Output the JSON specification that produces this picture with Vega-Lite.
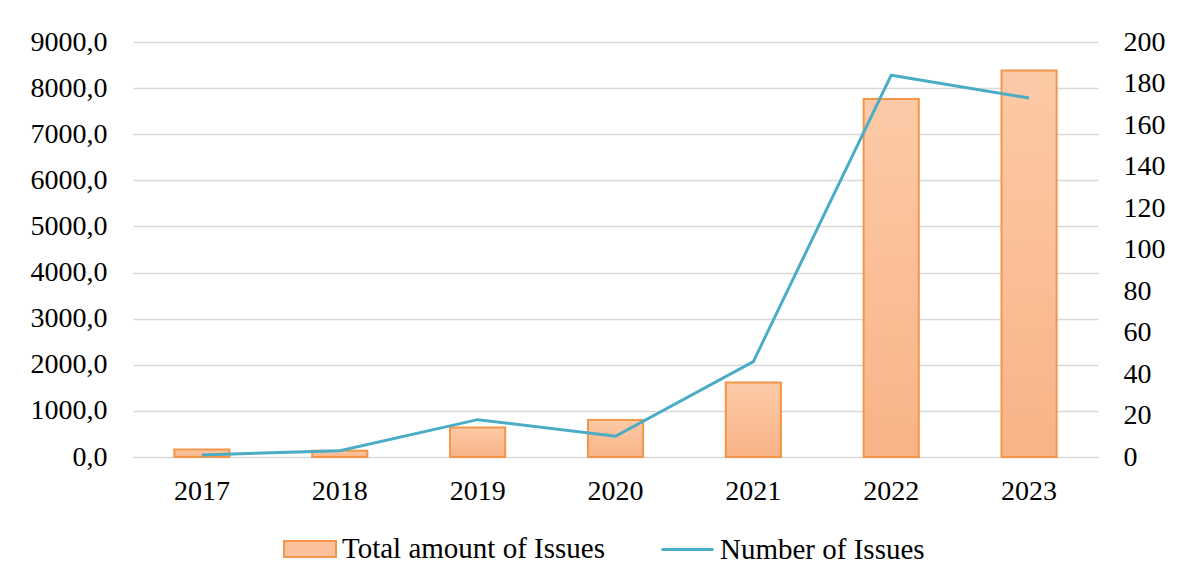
{
  "$schema": "https://vega.github.io/schema/vega-lite/v6.json",
  "autosize": {"type": "none"},
  "width": 965,
  "height": 415,
  "padding": {"left": 133, "top": 42, "right": 81, "bottom": 123},
  "background": "white",
  "config": {
    "view": {"stroke": null},
    "font": "Liberation Serif",
    "axis": {"labelFont": "Liberation Serif", "labelFontSize": 28, "labelColor": "#000000", "ticks": false, "domain": false, "title": null}
  },
  "data": {
    "values": [
      {"year": "2017", "total": 160, "count": 1},
      {"year": "2018", "total": 135, "count": 3},
      {"year": "2019", "total": 642, "count": 18},
      {"year": "2020", "total": 800, "count": 10},
      {"year": "2021", "total": 1618, "count": 46},
      {"year": "2022", "total": 7766, "count": 184},
      {"year": "2023", "total": 8380, "count": 173}
    ]
  },
  "encoding": {
    "x": {"field": "year", "type": "ordinal", "scale": {"paddingInner": 0.6, "paddingOuter": 0.3},
      "axis": {"labelAngle": 0, "labelPadding": 20, "grid": false}}
  },
  "layer": [
    {
      "mark": {"type": "bar"},
      "encoding": {
        "y": {"field": "total", "type": "quantitative", "scale": {"domain": [0, 9000], "nice": false},
          "axis": {"values": [0,1000,2000,3000,4000,5000,6000,7000,8000,9000], "labelExpr": "replace(format(datum.value, '.1f'), '.', ',')",
            "grid": true, "gridColor": "#d9d9d9", "gridWidth": 1.5, "labelPadding": 26}},
        "fill": {"datum": "Total amount of Issues", "type": "nominal",
          "scale": {"domain": ["Total amount of Issues"], "range": ["#fbc09c"]},
          "legend": {
            "orient": "none", "legendX": 150, "legendY": 480, "direction": "horizontal", "title": null,
            "labelFont": "Liberation Serif", "labelFontSize": 29, "labelColor": "#000000", "labelLimit": 500,
            "symbolSize": 2704, "symbolType": "M-1,-0.31H1V0.31H-1Z", "symbolStrokeColor": "#f4964a", "symbolStrokeWidth": 2, "labelOffset": 5
          }}
      }
    },
    {
      "mark": {"type": "bar", "strokeWidth": 2, "stroke": "#f4964a",
        "fill": {"gradient": "linear", "x1": 0, "y1": 0, "x2": 0, "y2": 1,
          "stops": [{"offset": 0, "color": "#fccaa7"}, {"offset": 1, "color": "#f9b387"}]}},
      "encoding": {
        "y": {"field": "total", "type": "quantitative", "scale": {"domain": [0, 9000], "nice": false}, "axis": null}
      }
    },
    {
      "mark": {"type": "line", "strokeWidth": 3},
      "encoding": {
        "y": {"field": "count", "type": "quantitative", "scale": {"domain": [0, 200], "nice": false},
          "axis": {"orient": "right", "values": [0,20,40,60,80,100,120,140,160,180,200], "grid": false, "labelPadding": 25}},
        "stroke": {"datum": "Number of Issues", "type": "nominal",
          "scale": {"domain": ["Number of Issues"], "range": ["#4bacc6"]},
          "legend": {
            "orient": "none", "legendX": 527, "legendY": 480, "direction": "horizontal", "title": null,
            "labelFont": "Liberation Serif", "labelFontSize": 29, "labelColor": "#000000", "labelLimit": 500,
            "symbolSize": 2704, "symbolType": "stroke", "symbolStrokeWidth": 3, "labelOffset": 5
          }}
      }
    }
  ],
  "resolve": {"scale": {"y": "independent"}}
}
